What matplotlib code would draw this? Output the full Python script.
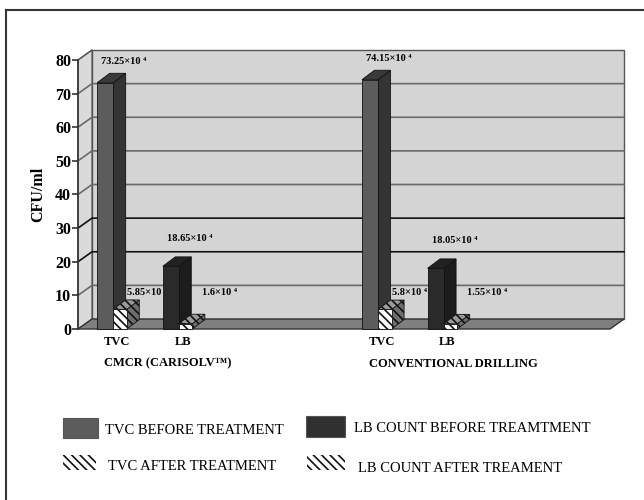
import matplotlib
matplotlib.use("Agg")
import matplotlib.pyplot as plt
from matplotlib.patches import Polygon, Rectangle
from matplotlib.lines import Line2D

plt.rcParams['font.family'] = ['Liberation Serif', 'DejaVu Serif']
plt.rcParams['hatch.linewidth'] = 1.2

# data
groups = ["CMCR (CARISOLV\u2122)", "CONVENTIONAL DRILLING"]
bar_names = ["TVC", "LB"]
before = [[73.25, 18.65], [74.15, 18.05]]
after = [[5.85, 1.6], [5.8, 1.55]]
before_labels = [["73.25\u00d710 \u2074", "18.65\u00d710 \u2074"],
                 ["74.15\u00d710 \u2074", "18.05\u00d710 \u2074"]]
after_labels = [["5.85\u00d710 \u2074", "1.6\u00d710 \u2074"],
                ["5.8\u00d710 \u2074", "1.55\u00d710 \u2074"]]
legend_names = ["TVC BEFORE TREATMENT", "LB COUNT BEFORE TREAMTMENT",
                "TVC AFTER TREATMENT", "LB COUNT AFTER TREAMENT"]
yticks = [0, 10, 20, 30, 40, 50, 60, 70, 80]

# layout (bar widths as x units)
group_x = [1.2, 17.75]
bar_step = 4.1
XMAX = 33.25
DX, DY = 0.875, 2.97      # wall depth
BDX, BDY = 0.78, 2.8      # bar depth
W_BEFORE, W_AFTER = 1.0, 0.85
HATCH = "\\\\\\\\"

tvc_cols = ("#5c5c5c", "#3a3a3a", "#343434")   # front, top, side
lb_cols = ("#2a2a2a", "#222222", "#1c1c1c")
after_cols = ("#ffffff", "#9a9a9a", "#6e6e6e")

fig = plt.figure(figsize=(6.44, 5.0), dpi=100)
ax = fig.add_axes([78 / 644, 171 / 500, (610 - 78) / 644, 269 / 500])
ax.set_xlim(0, XMAX)
ax.set_ylim(0, 80)
for s in ["top", "right", "bottom"]:
    ax.spines[s].set_visible(False)
ax.spines["left"].set_color("#333333")
ax.spines["left"].set_linewidth(1.2)
ax.set_xticks([])
ax.set_yticks(yticks)
ax.tick_params(axis="y", direction="out", length=4.5, width=1.2, color="#333333", pad=0.5)
for t in ax.get_yticklabels():
    t.set_fontweight("bold")
    t.set_fontsize(11.5)
ax.set_facecolor("none")
ax.set_ylabel("CFU/ml", fontsize=11.5, fontweight="bold", labelpad=6)

# walls
ax.add_patch(Polygon([(0, 0), (DX, DY), (DX, 80 + DY), (0, 80)],
                     closed=True, fc="#dadada", ec="#555555", lw=0.8, zorder=0, clip_on=False))
ax.add_patch(Rectangle((DX, DY), XMAX, 80, fc="#d4d4d4", ec="#555555", lw=1.0, zorder=0, clip_on=False))
ax.add_patch(Polygon([(0, 0), (XMAX, 0), (XMAX + DX, DY), (DX, DY)],
                     closed=True, fc="#7f7f7f", ec="#333333", lw=1.0, zorder=1, clip_on=False))
for v in yticks[1:-1]:
    col = "#111111" if v in (20, 30) else "#6a6a6a"
    ax.add_line(Line2D([0, DX, XMAX + DX], [v, v + DY, v + DY], color=col, lw=1.2,
                       zorder=0.5, clip_on=False))
ax.add_line(Line2D([0, DX], [80, 80 + DY], color="#555555", lw=1.0, zorder=0.5, clip_on=False))


def draw_bar(x0, w, h, cols, hatch=None, z=3):
    front, top, side = cols
    kw = dict(ec="#111111", lw=0.6, zorder=z, clip_on=False, hatch=hatch)
    ax.add_patch(Polygon([(x0 + w, 0), (x0 + w + BDX, BDY), (x0 + w + BDX, h + BDY), (x0 + w, h)],
                         closed=True, fc=side, **kw))
    ax.add_patch(Polygon([(x0, h), (x0 + w, h), (x0 + w + BDX, h + BDY), (x0 + BDX, h + BDY)],
                         closed=True, fc=top, **kw))
    ax.add_patch(Rectangle((x0, 0), w, h, fc=front, **kw))


for g, gx in enumerate(group_x):
    for b in range(len(bar_names)):
        x0 = gx + b * bar_step
        cols = tvc_cols if b == 0 else lb_cols
        draw_bar(x0, W_BEFORE, before[g][b], cols, z=3 + b * 2)
        draw_bar(x0 + W_BEFORE, W_AFTER, after[g][b], after_cols, hatch=HATCH, z=4 + b * 2)
        # value labels
        ly = before[g][b] + (6.3 if b == 0 else 8.3)
        ax.text(x0 + 0.25, ly, before_labels[g][b], fontsize=7.5, fontweight="bold",
                ha="left", va="center", zorder=2)
        ax.text(x0 + W_BEFORE + (0.85 if b == 0 else 1.45), 10.8, after_labels[g][b],
                fontsize=7.5, fontweight="bold", ha="left", va="center", zorder=2)
        ax.text(x0 + 1.25, -3.9, bar_names[b], fontsize=9, fontweight="bold",
                ha="center", va="center", clip_on=False)
    ax.text(gx + 0.45, -10.3, groups[g], fontsize=9, fontweight="bold",
            ha="left", va="center", clip_on=False)


# legend, drawn in figure pixels
def fx(px):
    return px / 644


def fy(py):
    return 1 - py / 500


leg_items = [
    (63, 418, 35, 20, tvc_cols[0], None, 105, 430),
    (306, 416, 39, 21, "#303030", None, 354, 428),
    (63, 455, 33, 15, "#ffffff", HATCH, 108, 467),
    (307, 455, 38, 15, "#ffffff", HATCH, 358, 469),
]
for (px, py, pw, ph, fc, hatch, tx, ty), name in zip(leg_items, legend_names):
    r = Rectangle((fx(px), fy(py + ph)), fx(pw), ph / 500, transform=fig.transFigure,
                  fc=fc, ec="#555555", lw=0.8, hatch=hatch)
    if hatch:
        r.set_edgecolor("#111111")
        r.set_linewidth(0)
    fig.add_artist(r)
    fig.text(fx(tx), fy(ty), name, fontsize=10.5, ha="left", va="center")

# outer frame
fig.add_artist(Line2D([fx(6), 1], [fy(10), fy(10)], transform=fig.transFigure, color="#333333", lw=1.5))
fig.add_artist(Line2D([fx(6), fx(6)], [fy(10), 0], transform=fig.transFigure, color="#333333", lw=1.5))

fig.savefig("out.png", dpi=100)
